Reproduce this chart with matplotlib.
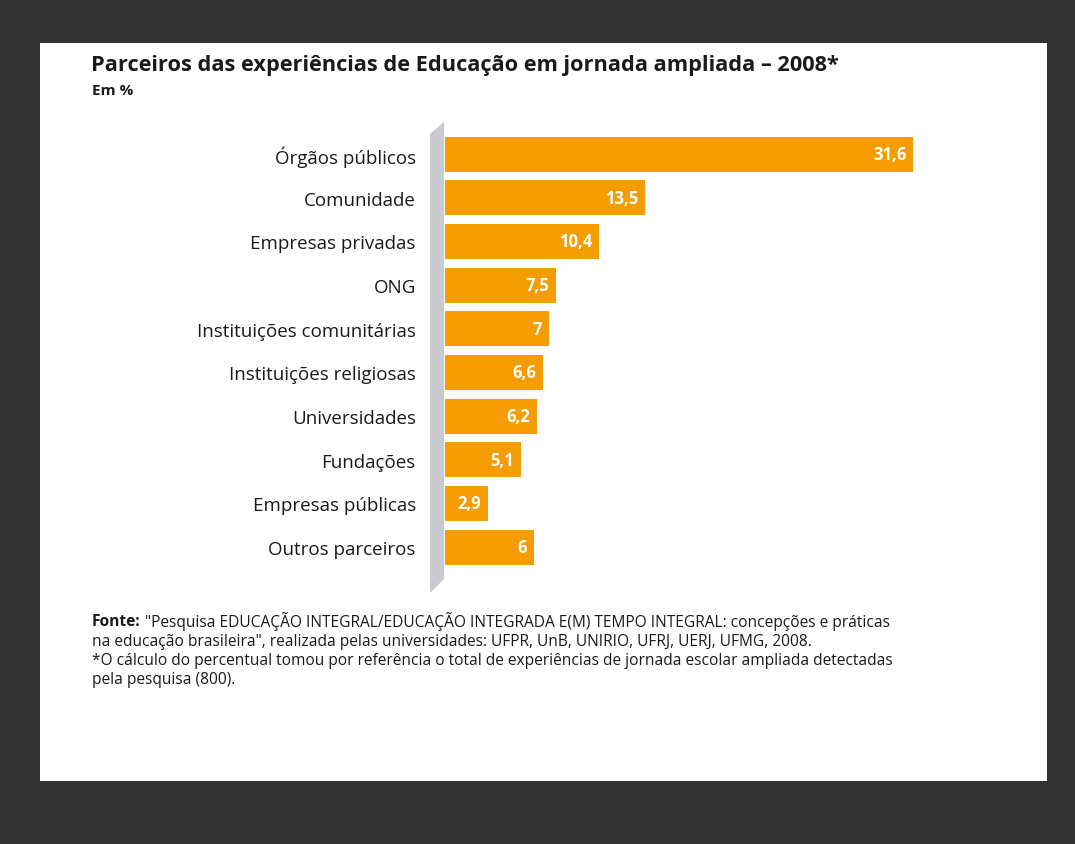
import matplotlib.pyplot as plt
from matplotlib.patches import Polygon, Rectangle

# partner categories and share of experiences (%)
categories = [
    'Órgãos públicos', 'Comunidade', 'Empresas privadas', 'ONG',
    'Instituições comunitárias', 'Instituições religiosas', 'Universidades',
    'Fundações', 'Empresas públicas', 'Outros parceiros',
]
values = [31.6, 13.5, 10.4, 7.5, 7, 6.6, 6.2, 5.1, 2.9, 6]

title = 'Parceiros das experiências de Educação em jornada ampliada – 2008*'
subtitle = 'Em %'
footer = [
    ' "Pesquisa EDUCAÇÃO INTEGRAL/EDUCAÇÃO INTEGRADA E(M) TEMPO INTEGRAL: concepções e práticas',
    'na educação brasileira", realizada pelas universidades: UFPR, UnB, UNIRIO, UFRJ, UERJ, UFMG, 2008.',
    '*O cálculo do percentual tomou por referência o total de experiências de jornada escolar ampliada detectadas',
    'pela pesquisa (800).',
]

ORANGE = '#F59C00'
DARK = '#333333'
TEXT = '#1a1a1a'
W, H = 1075, 845

plt.rcParams['font.family'] = ['Open Sans', 'DejaVu Sans']

fig = plt.figure(figsize=(W / 100, H / 100), dpi=100)
fig.patch.set_facecolor(DARK)


def px(x, y):
    # pixel position (from top-left) -> figure fraction
    return x / W, 1 - y / H


# white panel
x0, y0 = px(40, 782)
x1, y1 = px(1047, 44)
fig.patches.append(Rectangle((x0, y0), x1 - x0, y1 - y0, transform=fig.transFigure,
                             facecolor='white', edgecolor='none', zorder=0))

# grey "wall" behind the bar bases
wall = [px(430, 135), px(444, 123), px(444, 580), px(430, 594)]
fig.patches.append(Polygon(wall, closed=True, transform=fig.transFigure,
                           facecolor='#c9cacf', edgecolor='none', zorder=1))

# bar axes: 14.81 px per percent point, rows 43.67 px apart
left, right = 445, 1000
top, bottom = 133.2, 569.9
ax = fig.add_axes([left / W, 1 - bottom / H, (right - left) / W, (bottom - top) / H])
ax.set_facecolor('none')
ax.set_zorder(2)
ax.set_xlim(0, (right - left) / 14.81)
ax.set_ylim(len(categories) - 0.5, -0.5)

ypos = range(len(categories))
ax.barh(ypos, values, height=0.8, color=ORANGE, edgecolor='none')
for i, v in zip(ypos, values):
    ax.text(v - 0.45, i, f'{v:g}'.replace('.', ','), ha='right', va='center',
            color='white', fontsize=12, fontweight='bold')

ax.set_yticks(list(ypos))
ax.set_yticklabels(categories, fontsize=13.5, color=TEXT)
ax.tick_params(axis='y', length=0, pad=21)
ax.set_xticks([])
for s in ax.spines.values():
    s.set_visible(False)

# title block
fig.text(*px(91, 66), title, fontsize=15.7, fontweight='bold', color=TEXT, va='center')
fig.text(*px(92, 91), subtitle, fontsize=11, fontweight='bold', color=TEXT, va='center')

# source notes
fs = 11.2
src = fig.text(*px(92, 622), 'Fonte:', fontsize=fs, fontweight='bold', color=TEXT, va='center')
ax.annotate(footer[0], xy=(1, 0.5), xycoords=src, va='center', ha='left',
            fontsize=fs, color=TEXT, annotation_clip=False)
for k, line in enumerate(footer[1:], start=1):
    fig.text(*px(92, 622 + k * 19.5), line, fontsize=fs, color=TEXT, va='center')

fig.savefig('out.png', dpi=100, facecolor=fig.get_facecolor())
